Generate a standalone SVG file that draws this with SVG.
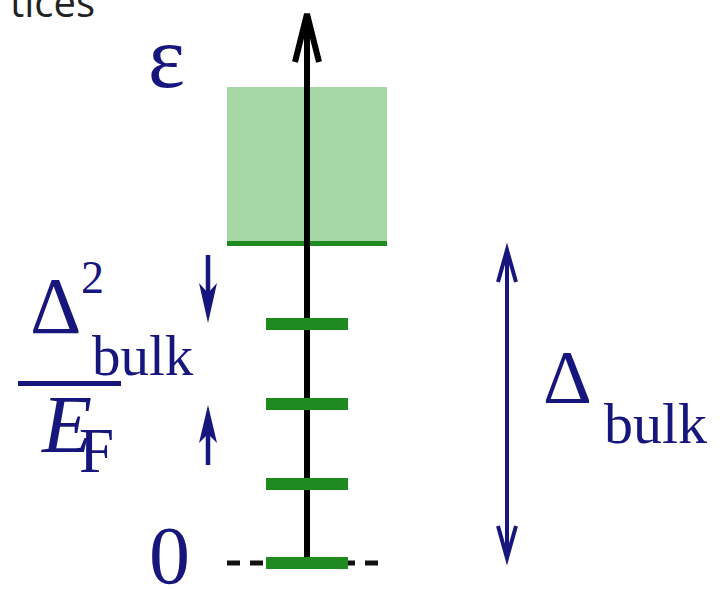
<svg xmlns="http://www.w3.org/2000/svg" width="726" height="589" viewBox="0 0 726 589">
<style>
.navy{fill:#16167c;font-family:"Liberation Serif","Times New Roman",serif}
.bar{fill:#1f8a1f}
</style>
<rect width="726" height="589" fill="#ffffff"/>
<text x="10" y="17" font-family="Open Sans, DejaVu Sans, sans-serif" font-size="40" fill="#222222">tices</text>
<g id="band">
<rect x="227" y="87" width="160" height="157" fill="#a6d8a6"/>
<rect x="227" y="241" width="160" height="5" class="bar"/>
</g>
<g id="zero-line">
<line x1="227" y1="563" x2="387" y2="563" stroke="#111" stroke-width="5" stroke-dasharray="13 10"/>
</g>
<g id="connectors">
<line x1="307" y1="560" x2="307" y2="16" stroke="#000" stroke-width="6"/>
<polyline points="295,62 307,14 319,62" fill="none" stroke="#000" stroke-width="6"/>
<line x1="507" y1="252" x2="507" y2="556" stroke="#16167c" stroke-width="4"/>
<polyline points="498,282 507,250 516,282" fill="none" stroke="#16167c" stroke-width="4"/>
<polyline points="498,526 507,558 516,526" fill="none" stroke="#16167c" stroke-width="4"/>
<line x1="208" y1="255" x2="208" y2="300" stroke="#16167c" stroke-width="4.5"/>
<polygon points="208,323 199,283 208,293 217,283" fill="#16167c"/>
<line x1="208" y1="465" x2="208" y2="425" stroke="#16167c" stroke-width="4.5"/>
<polygon points="208,405 199,443 208,434 217,443" fill="#16167c"/>
</g>
<g id="levels">
<rect x="266" y="318" width="82" height="12" class="bar"/>
<rect x="266" y="398" width="82" height="12" class="bar"/>
<rect x="266" y="478" width="82" height="12" class="bar"/>
<rect x="266" y="557" width="82" height="12" class="bar"/>
</g>
<g id="label-eps">
<text x="148" y="87" class="navy" font-size="88">ε</text>
</g>
<g id="label-zero">
<text x="149" y="583" class="navy" font-size="82">0</text>
</g>
<g id="label-fraction">
<text x="30" y="333" class="navy" font-size="80">Δ</text>
<text x="81" y="293" class="navy" font-size="46">2</text>
<text x="92" y="375" class="navy" font-size="57">bulk</text>
<rect x="18" y="381" width="103" height="5" fill="#16167c"/>
<text x="42" y="452" class="navy" font-size="82" font-style="italic">E</text>
<text x="79" y="472" class="navy" font-size="63">F</text>
</g>
<g id="label-delta-bulk">
<text x="543" y="403" class="navy" font-size="76">Δ</text>
<text x="604" y="443" class="navy" font-size="58">bulk</text>
</g>
</svg>
